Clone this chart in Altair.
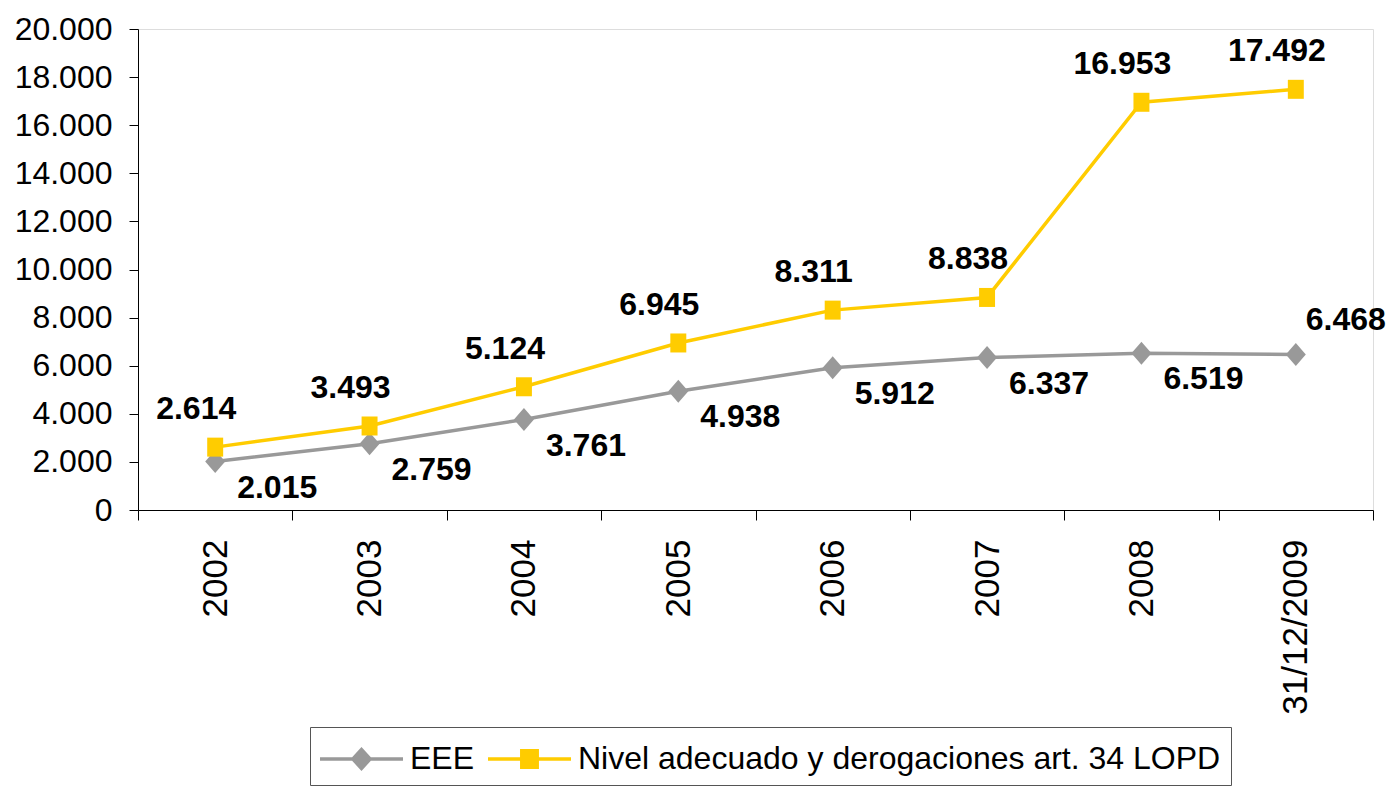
import altair as alt
import pandas as pd

years = ["2002", "2003", "2004", "2005", "2006", "2007", "2008", "31/12/2009"]
eee = [2015, 2759, 3761, 4938, 5912, 6337, 6519, 6468]
nivel = [2614, 3493, 5124, 6945, 8311, 8838, 16953, 17492]
series_names = ["EEE", "Nivel adecuado y derogaciones art. 34 LOPD"]
y_ticks = [0, 2000, 4000, 6000, 8000, 10000, 12000, 14000, 16000, 18000, 20000]

GRAY = "#999999"
YELLOW = "#FFCC00"

rows = []
for name, vals in zip(series_names, [eee, nivel]):
    for y, v in zip(years, vals):
        rows.append({"year": y, "serie": name, "value": v})
df = pd.DataFrame(rows)

FONT = "Liberation Sans"

x_enc = alt.X(
    "year:N",
    sort=years,
    scale=alt.Scale(type="band", paddingInner=0, paddingOuter=0),
    axis=alt.Axis(
        title=None,
        labelAngle=-90,
        labelFont=FONT,
        labelFontSize=35,
        labelColor="#000000",
        labelPadding=19,
        tickBand="extent",
        tickSize=10,
        tickColor="#000000",
        domainColor="#000000",
        grid=False,
    ),
)
y_enc = alt.Y(
    "value:Q",
    scale=alt.Scale(domain=[0, 20000]),
    axis=alt.Axis(
        title=None,
        values=y_ticks,
        labelExpr="replace(format(datum.value, ','), ',', '.')",
        labelFont=FONT,
        labelFontSize=32,
        labelColor="#000000",
        labelPadding=17,
        tickSize=9,
        tickColor="#000000",
        domainColor="#000000",
        grid=False,
    ),
)

base = alt.Chart(df).transform_calculate(
    label="replace(format(datum.value, ','), ',', '.')"
)

last_year = years[-1]
f_eee = alt.datum.serie == series_names[0]
f_niv = alt.datum.serie == series_names[1]
f_eee_main = (alt.datum.serie == series_names[0]) & (alt.datum.year != last_year)
f_eee_last = (alt.datum.serie == series_names[0]) & (alt.datum.year == last_year)

diamond = "M0,-1.045L0.91,0L0,1.045L-0.91,0Z"
square = "M-0.84,-1H0.84V1H-0.84Z"

line_eee = base.transform_filter(f_eee).mark_line(color=GRAY, strokeWidth=3.5).encode(x=x_enc, y=y_enc)
line_niv = base.transform_filter(f_niv).mark_line(color=YELLOW, strokeWidth=3.5).encode(x=x_enc, y=y_enc)
pt_eee = base.transform_filter(f_eee).mark_point(
    shape=diamond, size=484, filled=True, color=GRAY, opacity=1
).encode(x=x_enc, y=y_enc)
pt_niv = base.transform_filter(f_niv).mark_point(
    shape=square, size=361, filled=True, color=YELLOW, opacity=1
).encode(x=x_enc, y=y_enc)

text_style = dict(font=FONT, fontSize=32, fontWeight="bold", color="#000000",
                  align="center", baseline="middle")
txt_eee = base.transform_filter(f_eee_main).mark_text(dx=62, dy=26, **text_style).encode(
    x=x_enc, y=y_enc, text="label:N")
txt_eee_last = base.transform_filter(f_eee_last).mark_text(dx=50, dy=-34, **text_style).encode(
    x=x_enc, y=y_enc, text="label:N")
txt_niv = base.transform_filter(f_niv).mark_text(dx=-19, dy=-38, **text_style).encode(
    x=x_enc, y=y_enc, text="label:N")

# legend symbols: line + marker (path extends past the unit box to the right)
leg_eee = "M-1,-0.08H2.773V0.08H-1Z M0.886,-0.545L1.386,0L0.886,0.545L0.386,0Z"
leg_niv = "M-1,-0.08H2.773V0.08H-1Z M0.456,-0.455H1.316V0.455H0.456Z"

legend = alt.Legend(
    title=None,
    orient="none",
    legendX=172,
    legendY=698,
    direction="horizontal",
    labelFont=FONT,
    labelFontSize=32,
    labelColor="#000000",
    labelLimit=0,
    labelOffset=46,
    columnPadding=13,
    symbolSize=1936,
    symbolStrokeWidth=0,
    symbolOpacity=1,
    strokeColor="#555555",
    fillColor="#FFFFFF",
    padding=10,
)

leg_layer = base.transform_filter("false").mark_point(filled=True, opacity=1).encode(
    color=alt.Color(
        "serie:N",
        scale=alt.Scale(domain=series_names, range=[GRAY, YELLOW]),
        legend=legend,
    ),
    shape=alt.Shape(
        "serie:N",
        scale=alt.Scale(domain=series_names, range=[leg_eee, leg_niv]),
        legend=legend,
    ),
)

chart = alt.layer(
    line_eee, line_niv, pt_eee, pt_niv, txt_eee, txt_eee_last, txt_niv, leg_layer
).properties(
    width=1235,
    height=481,
    autosize=alt.AutoSizeParams(type="none"),
    padding={"left": 138, "top": 29, "right": 16, "bottom": 284},
).configure_view(stroke=None).configure(background="#FFFFFF")

chart.save("out.html", embed_options={"renderer": "svg", "actions": False})
